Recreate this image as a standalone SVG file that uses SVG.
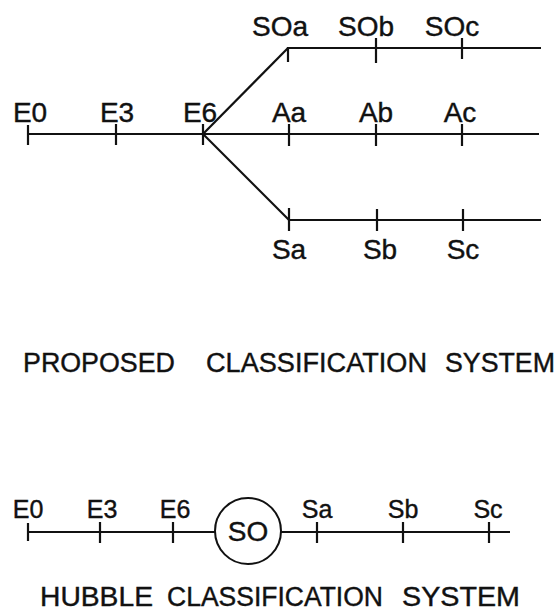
<svg xmlns="http://www.w3.org/2000/svg" width="556" height="616" viewBox="0 0 556 616">
<style>
.ln{stroke:#111;stroke-width:2.2;fill:none;stroke-linecap:butt}
.tk{stroke:#111;stroke-width:2.2}
.lb{font-family:"Liberation Sans",Arial,sans-serif;font-size:28px;fill:#111;stroke:#111;stroke-width:0.4;text-anchor:middle}
.lb2{font-family:"Liberation Sans",Arial,sans-serif;font-size:25px;fill:#111;stroke:#111;stroke-width:0.4;text-anchor:middle}
.tt{font-family:"Liberation Sans",Arial,sans-serif;font-size:27px;fill:#111;stroke:#111;stroke-width:0.4}
</style>
<rect width="556" height="616" fill="#fff"/>
<g id="connectors">
<line class="ln" x1="28" y1="134" x2="539" y2="134"/>
<line class="ln" x1="203" y1="134" x2="288" y2="48"/>
<line class="ln" x1="203" y1="134" x2="289" y2="220"/>
<line class="ln" x1="288" y1="48" x2="541" y2="48"/>
<line class="ln" x1="289" y1="220" x2="541" y2="220"/>
<line class="ln" x1="28" y1="532" x2="215" y2="532"/>
<line class="ln" x1="281" y1="532" x2="510" y2="532"/>
</g>
<g id="p-E0"><line class="tk" x1="28" y1="125" x2="28" y2="145"/><text class="lb" x="30" y="122">E0</text></g>
<g id="p-E3"><line class="tk" x1="116" y1="124" x2="116" y2="145"/><text class="lb" x="117" y="122">E3</text></g>
<g id="p-E6"><line class="tk" x1="203" y1="124" x2="203" y2="145"/><text class="lb" x="200" y="122">E6</text></g>
<g id="p-SOa"><line class="tk" x1="288" y1="47" x2="288" y2="62"/><text class="lb" x="280" y="36">SOa</text></g>
<g id="p-SOb"><line class="tk" x1="376" y1="38" x2="376" y2="63"/><text class="lb" x="366" y="36">SOb</text></g>
<g id="p-SOc"><line class="tk" x1="462" y1="38" x2="462" y2="59"/><text class="lb" x="452" y="36">SOc</text></g>
<g id="p-Aa"><line class="tk" x1="289" y1="124" x2="289" y2="146"/><text class="lb" x="289" y="122">Aa</text></g>
<g id="p-Ab"><line class="tk" x1="376" y1="124" x2="376" y2="146"/><text class="lb" x="376" y="122">Ab</text></g>
<g id="p-Ac"><line class="tk" x1="462" y1="124" x2="462" y2="146"/><text class="lb" x="460" y="122">Ac</text></g>
<g id="p-Sa"><line class="tk" x1="289" y1="208" x2="289" y2="231"/><text class="lb" x="289" y="259">Sa</text></g>
<g id="p-Sb"><line class="tk" x1="377" y1="209" x2="377" y2="231"/><text class="lb" x="380" y="259">Sb</text></g>
<g id="p-Sc"><line class="tk" x1="463" y1="209" x2="463" y2="231"/><text class="lb" x="463" y="259">Sc</text></g>
<g id="title-proposed"><text class="tt" y="372"><tspan x="23" textLength="152" lengthAdjust="spacingAndGlyphs">PROPOSED</tspan><tspan x="206" textLength="221" lengthAdjust="spacingAndGlyphs">CLASSIFICATION</tspan><tspan x="445" textLength="110" lengthAdjust="spacingAndGlyphs">SYSTEM</tspan></text></g>
<g id="h-E0"><line class="tk" x1="28" y1="523" x2="28" y2="541"/><text class="lb2" x="28" y="518">E0</text></g>
<g id="h-E3"><line class="tk" x1="100" y1="522" x2="100" y2="543"/><text class="lb2" x="102" y="518">E3</text></g>
<g id="h-E6"><line class="tk" x1="173" y1="522" x2="173" y2="543"/><text class="lb2" x="175" y="518">E6</text></g>
<g id="h-SO"><circle cx="248" cy="531" r="33" fill="none" stroke="#111" stroke-width="2"/><text class="lb" x="248" y="541">SO</text></g>
<g id="h-Sa"><line class="tk" x1="317" y1="522" x2="317" y2="543"/><text class="lb2" x="317" y="518">Sa</text></g>
<g id="h-Sb"><line class="tk" x1="403" y1="522" x2="403" y2="543"/><text class="lb2" x="403" y="518">Sb</text></g>
<g id="h-Sc"><line class="tk" x1="489" y1="522" x2="489" y2="543"/><text class="lb2" x="488" y="518">Sc</text></g>
<g id="title-hubble"><text class="tt" y="606"><tspan x="40" textLength="113" lengthAdjust="spacingAndGlyphs">HUBBLE</tspan><tspan x="167" textLength="216" lengthAdjust="spacingAndGlyphs">CLASSIFICATION</tspan><tspan x="402" textLength="118" lengthAdjust="spacingAndGlyphs">SYSTEM</tspan></text></g>
</svg>
